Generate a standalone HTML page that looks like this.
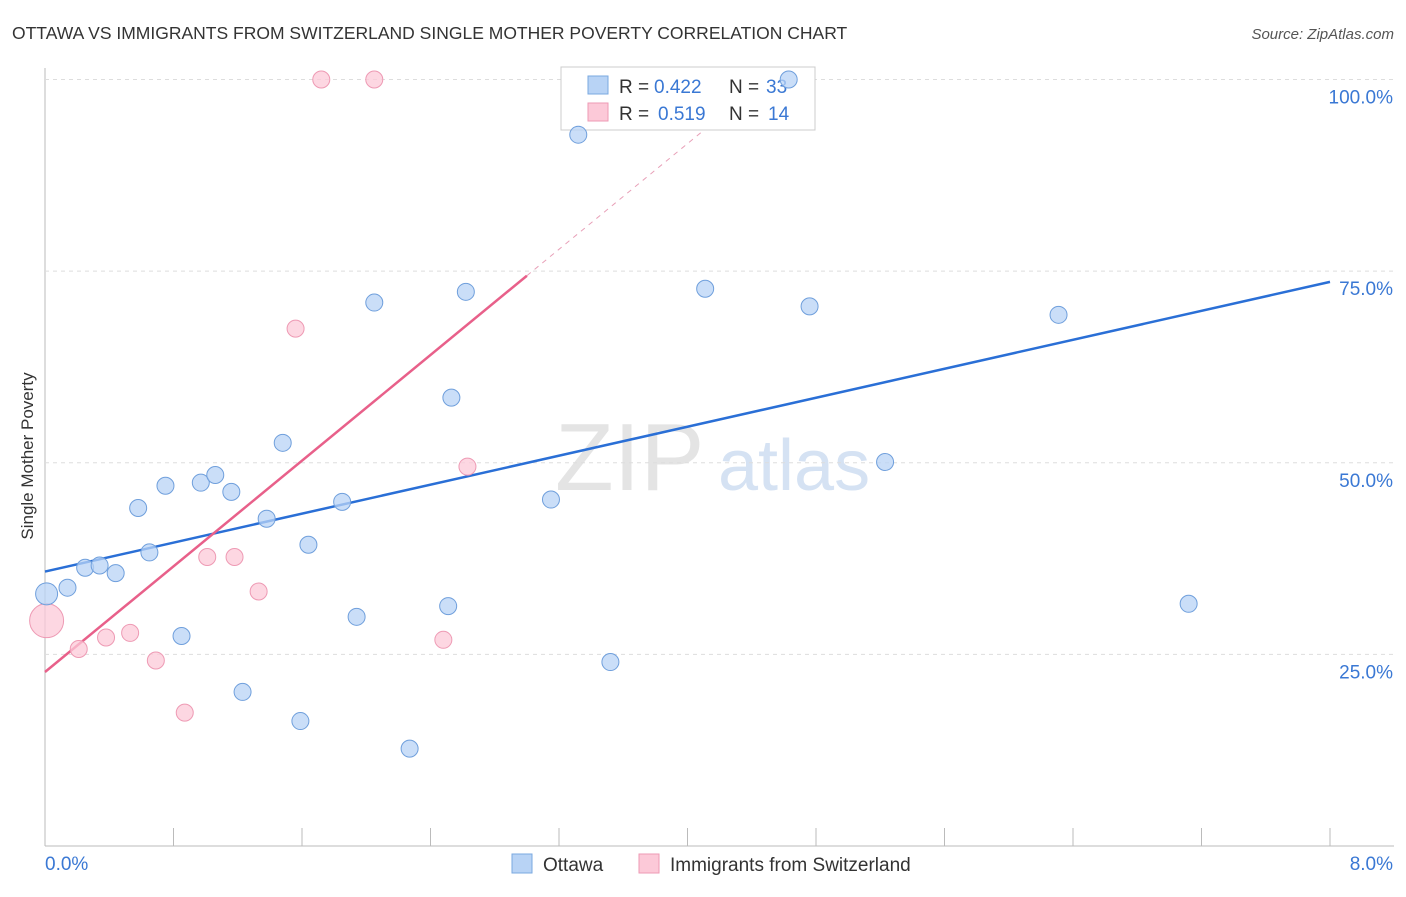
<!DOCTYPE html>
<html><head><meta charset="utf-8"><style>
body{margin:0;background:#fff;font-family:"Liberation Sans",sans-serif;}
svg text{font-family:"Liberation Sans",sans-serif;}
</style></head><body>
<svg id="c" width="1406" height="892" xmlns="http://www.w3.org/2000/svg">
<text x="12" y="39" font-size="17.5" fill="#333">OTTAWA VS IMMIGRANTS FROM SWITZERLAND SINGLE MOTHER POVERTY CORRELATION CHART</text>
<text x="1394" y="39" font-size="15" fill="#555" text-anchor="end" font-style="italic">Source: ZipAtlas.com</text>
<text x="33" y="456" font-size="17" fill="#333" text-anchor="middle" transform="rotate(-90 33 456)">Single Mother Poverty</text>
<text x="555" y="490" font-size="96" fill="#e4e4e4" font-family="Liberation Serif">ZIP</text>
<text x="718" y="490" font-size="72" fill="#d5e2f3">atlas</text>
<g id="grid"></g>
<g id="lines"></g>
<g>
<rect x="561" y="67" width="254" height="63" fill="#fff" stroke="#ccc"/>
<rect x="588" y="76" width="20" height="18" fill="#b8d3f5" stroke="#7aa8e0"/>
<rect x="588" y="103" width="20" height="18" fill="#fcc9d8" stroke="#ee9ab4"/>
<text x="619" y="93" font-size="19" fill="#333">R =</text>
<text x="654" y="93" font-size="19" fill="#3a78d4">0.422</text>
<text x="729" y="93" font-size="19" fill="#333">N =</text>
<text x="766" y="93" font-size="19" fill="#3a78d4">33</text>
<text x="619" y="120" font-size="19" fill="#333">R =</text>
<text x="658" y="120" font-size="19" fill="#3a78d4">0.519</text>
<text x="729" y="120" font-size="19" fill="#333">N =</text>
<text x="768" y="120" font-size="19" fill="#3a78d4">14</text>
</g>
<g id="pts"></g>
<g>
<rect x="512" y="854" width="20" height="19" fill="#b8d3f5" stroke="#7aa8e0"/>
<text x="543" y="871" font-size="19" fill="#333">Ottawa</text>
<rect x="639" y="854" width="20" height="19" fill="#fcc9d8" stroke="#ee9ab4"/>
<text x="670" y="871" font-size="19" fill="#333">Immigrants from Switzerland</text>
</g>
</svg>
<script>
const xTicks=[0,0.8,1.6,2.4,3.2,4,4.8,5.6,6.4,7.2,8];
const yTicks=[25,50,75,100];
const yTickLabels=["25.0%","50.0%","75.0%","100.0%"];
const ottawaX=[0.01,0.14,0.25,0.34,0.44,0.58,0.65,0.75,0.85,0.97,1.06,1.16,1.23,1.38,1.48,1.59,1.64,1.85,1.94,2.05,2.27,2.51,2.53,2.62,3.15,3.32,3.52,4.11,4.63,4.76,5.23,6.31,7.12];
const ottawaY=[32.9,33.7,36.3,36.6,35.6,44.1,38.3,47.0,27.4,47.4,48.4,46.2,20.1,42.7,52.6,16.3,39.3,44.9,29.9,70.9,12.7,31.3,58.5,72.3,45.2,92.8,24.0,72.7,100,70.4,50.1,69.3,31.6];
const swissX=[0.01,0.21,0.38,0.53,0.69,0.87,1.01,1.18,1.33,1.56,1.72,2.05,2.48,2.63];
const swissY=[29.4,25.7,27.2,27.8,24.2,17.4,37.7,37.7,33.2,67.5,100,100,26.9,49.5];
const ottawaTrend=[35.8,73.6]; // at x=0 and x=8
const swissTrend=[22.7,74.4]; // at x=0 and x=3
const X=v=>45+v*160.625, Y=v=>846-v*7.665;
const NS="http://www.w3.org/2000/svg";
function mk(t,a,p){const e=document.createElementNS(NS,t);for(const k in a)e.setAttribute(k,a[k]);p.appendChild(e);return e;}
const g=document.getElementById('grid');
const ax=mk('line',{x1:45,y1:846,x2:1394,y2:846,stroke:'#bbb'},g);


const ay=mk('line',{x1:45,y1:68,x2:45,y2:846,stroke:'#bbb'},g);


xTicks.forEach(v=>{const t=mk('line',{x1:X(v),y1:828,x2:X(v),y2:846,stroke:'#bbb'},g);

});
yTicks.forEach((v,i)=>{const l=mk('line',{x1:45,y1:Y(v),x2:1394,y2:Y(v),stroke:'#ddd','stroke-dasharray':'4,4'},g);


const t=mk('text',{x:1393,y:Y(v)+24,'font-size':19,fill:'#3a78d4','text-anchor':'end'},g);t.textContent=yTickLabels[i];

});
const x0=mk('text',{x:45,y:870,'font-size':19,fill:'#3a78d4'},g);x0.textContent=xTicks[0].toFixed(1)+'%';


const x1=mk('text',{x:1393,y:870,'font-size':19,fill:'#3a78d4','text-anchor':'end'},g);x1.textContent=xTicks[xTicks.length-1].toFixed(1)+'%';


const L=document.getElementById('lines');
const ob=mk('line',{x1:X(0),y1:Y(ottawaTrend[0]),x2:X(8),y2:Y(ottawaTrend[1]),stroke:'#2a6fd6','stroke-width':2.5},L);


const sl=(swissTrend[1]-swissTrend[0])/3, xe=(100-swissTrend[0])/sl;
const sd=mk('line',{x1:X(3),y1:Y(swissTrend[1]),x2:X(xe),y2:Y(100),stroke:'#e8a0b8','stroke-width':1,'stroke-dasharray':'5,5'},L);


const sp=mk('line',{x1:X(0),y1:Y(swissTrend[0]),x2:X(3),y2:Y(swissTrend[1]),stroke:'#e8608a','stroke-width':2.5},L);


const P=document.getElementById('pts');
swissX.forEach((v,i)=>{const c=mk('circle',{cx:X(v),cy:Y(swissY[i]),r:i===0?17:8.5,fill:'#fcc9d8','fill-opacity':0.75,stroke:'#ee9ab4'},P);

});
ottawaX.forEach((v,i)=>{const c=mk('circle',{cx:X(v),cy:Y(ottawaY[i]),r:i===0?11:8.5,fill:'#b8d3f5','fill-opacity':0.75,stroke:'#6f9fdc'},P);

});
</script>
</body></html>
